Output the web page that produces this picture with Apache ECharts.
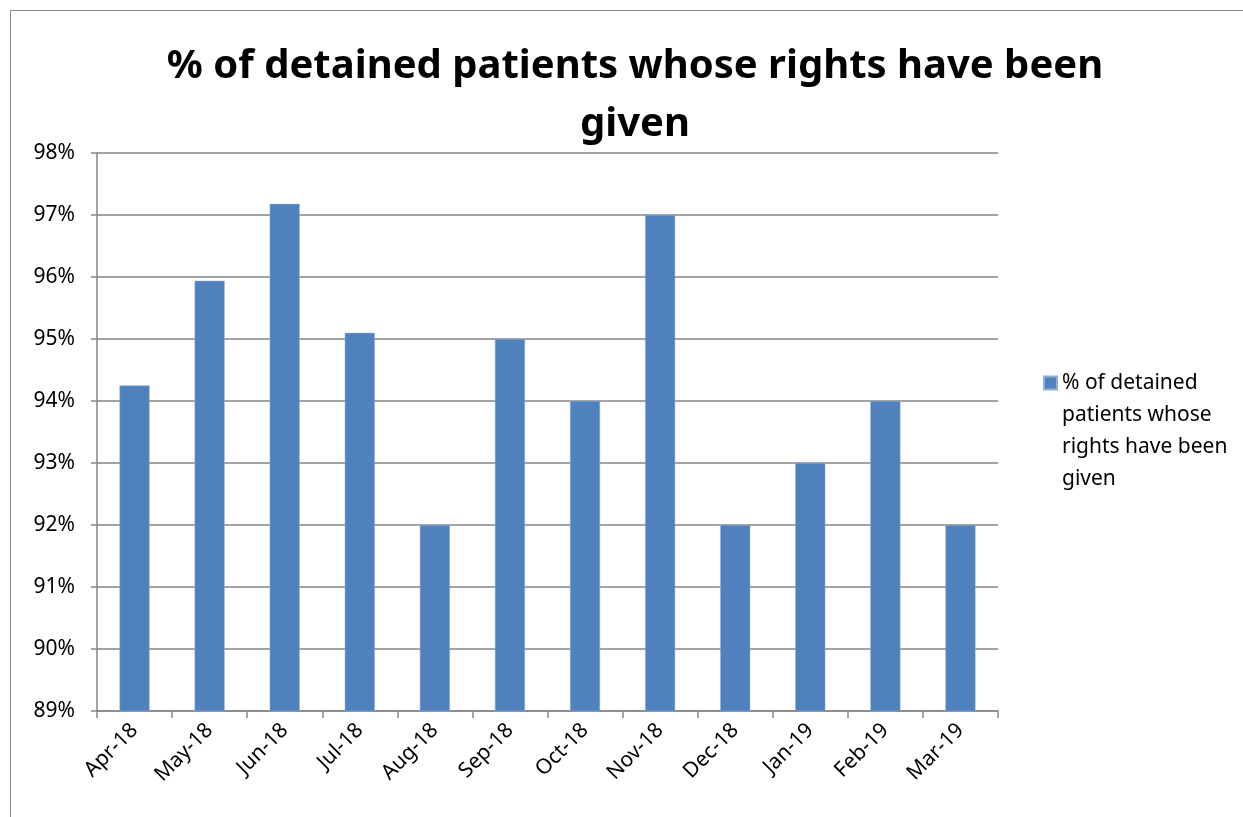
<!DOCTYPE html>
<html lang="en">
<head>
  <meta charset="UTF-8">
  <title>% of detained patients whose rights have been given</title>
  <style>
    body { margin: 0; background: #fff; }
    #frame {
      position: absolute;
      left: 10px;
      top: 10px;
      width: 1240px;
      height: 820px;
      border: solid 1px #8c8c8c;
    }
    #myEcharts {
      position: absolute;
      left: 0;
      top: 0;
      width: 1243px;
      height: 817px;
    }
  </style>
  <script src="https://cdn.jsdelivr.net/npm/echarts@6/dist/echarts.min.js"></script>
</head>
<body>
  <div id="frame"></div>
  <div id="myEcharts"></div>
  <script>
    // data
    var months = ['Apr-18', 'May-18', 'Jun-18', 'Jul-18', 'Aug-18', 'Sep-18',
      'Oct-18', 'Nov-18', 'Dec-18', 'Jan-19', 'Feb-19', 'Mar-19']
    var rightsGiven = [94.25, 95.94, 97.18, 95.1, 92, 95, 94, 97, 92, 93, 94, 92]
    var seriesName = '% of detained patients whose rights have been given'

    var font = '"Noto Sans", "DejaVu Sans", sans-serif'
    var gray = '#868686'

    // square sits on the first text line: bare moveTo points stretch the icon box
    var legendIcon = 'path://M0,0 M0,128.1 M0,9.5h13v13h-13Z'

    var myChart = echarts.init(document.getElementById('myEcharts'))
    var option = {
      animation: false,
      title: {
        text: '% of detained patients whose rights have been\ngiven',
        left: 630,
        textAlign: 'center',
        top: 33,
        textStyle: {
          fontFamily: font,
          fontWeight: 'bold',
          fontSize: 40,
          lineHeight: 58,
          color: '#000'
        }
      },
      legend: {
        left: 1038,
        top: 361,
        icon: legendIcon,
        itemWidth: 13,
        itemHeight: 128.1,
        itemGap: 0,
        data: [seriesName],
        formatter: function () {
          return '% of detained\npatients whose\nrights have been\ngiven'
        },
        textStyle: {
          fontFamily: font,
          fontSize: 21,
          lineHeight: 32,
          color: '#000'
        }
      },
      grid: {
        left: 97,
        right: 245,
        top: 153,
        bottom: 106
      },
      xAxis: {
        type: 'category',
        data: months,
        axisLine: { lineStyle: { color: gray, width: 1.5 } },
        axisTick: { show: true, length: 7, alignWithLabel: false, lineStyle: { color: gray, width: 1.5 } },
        axisLabel: {
          rotate: 45,
          margin: 16,
          fontFamily: font,
          fontSize: 21,
          color: '#000'
        }
      },
      yAxis: {
        type: 'value',
        min: 89,
        max: 98,
        interval: 1,
        axisLine: { show: true, lineStyle: { color: gray, width: 1.5 } },
        axisTick: { show: true, length: 6, lineStyle: { color: gray, width: 1.5 } },
        splitLine: { lineStyle: { color: gray, width: 1.5 } },
        axisLabel: {
          formatter: '{value}%',
          margin: 22,
          fontFamily: font,
          fontSize: 21,
          color: '#000'
        }
      },
      series: [{
        name: seriesName,
        type: 'bar',
        barWidth: '40%',
        data: rightsGiven,
        itemStyle: {
          color: '#4F81BD',
          borderColor: '#8fb0d8',
          borderWidth: 0.5
        }
      }]
    }
    myChart.setOption(option)
  </script>
</body>
</html>
